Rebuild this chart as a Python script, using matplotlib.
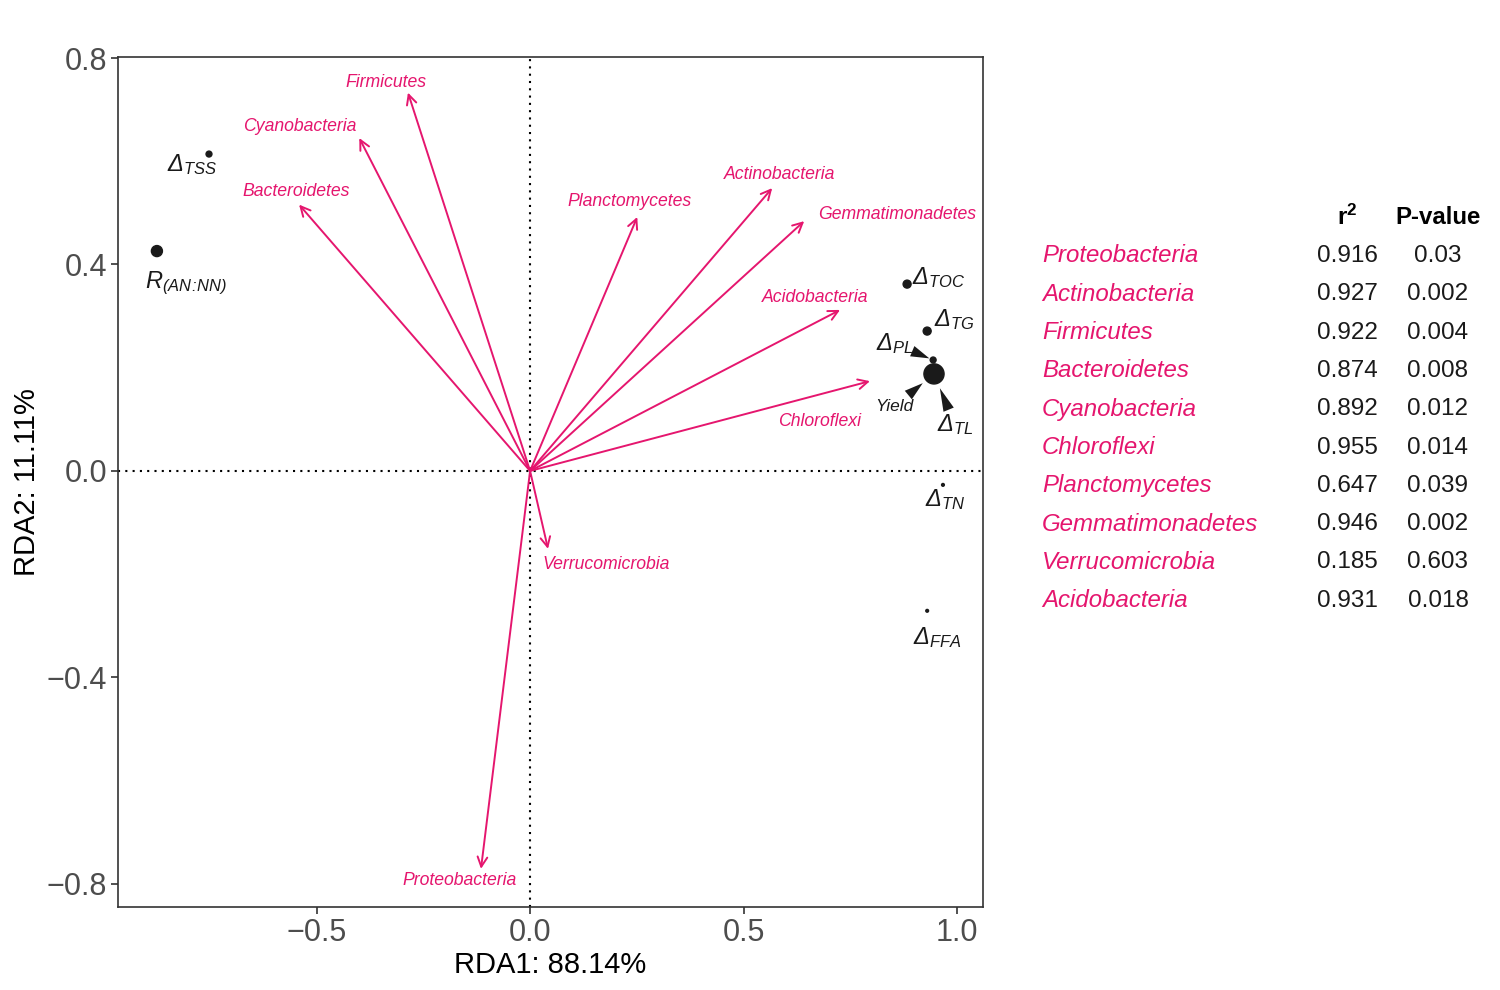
import numpy as np
import matplotlib
matplotlib.use("Agg")
import matplotlib.pyplot as plt

plt.rcParams['font.family'] = ['Liberation Sans', 'DejaVu Sans']
plt.rcParams['mathtext.fontset'] = 'custom'
plt.rcParams['mathtext.rm'] = 'Liberation Sans:italic'
plt.rcParams['mathtext.it'] = 'Liberation Sans:italic'
plt.rcParams['mathtext.bf'] = 'Liberation Sans:bold'

PINK = '#E5166E'

# species arrows (RDA1, RDA2)
taxa = ['Firmicutes', 'Cyanobacteria', 'Bacteroidetes', 'Planctomycetes', 'Actinobacteria',
        'Gemmatimonadetes', 'Acidobacteria', 'Chloroflexi', 'Verrucomicrobia', 'Proteobacteria']
arrow_x = [-0.286, -0.400, -0.541, 0.251, 0.567, 0.642, 0.726, 0.796, 0.042, -0.115]
arrow_y = [0.733, 0.645, 0.516, 0.492, 0.548, 0.484, 0.312, 0.174, -0.151, -0.771]
label_x = [-0.337, -0.539, -0.548, 0.232, 0.585, 0.859, 0.667, 0.677, 0.178, -0.164]
label_y = [0.752, 0.667, 0.541, 0.523, 0.574, 0.496, 0.337, 0.095, -0.182, -0.793]

# environmental points
env_names = [r'Δ$_{TSS}$', r'R$_{(AN\!:\!NN)}$', r'Δ$_{TOC}$',
             r'Δ$_{TG}$', r'Δ$_{PL}$', 'Yield',
             r'Δ$_{TL}$', r'Δ$_{TN}$', r'Δ$_{FFA}$']
env_x = [-0.752, -0.874, 0.883, 0.930, 0.944, 0.946, 0.946, 0.967, 0.930]
env_y = [0.614, 0.426, 0.362, 0.271, 0.215, 0.188, 0.188, -0.027, -0.271]
env_size = [18, 63, 33, 33, 18, 210, 0, 4, 4]
env_lab_x = [-0.792, -0.806, 0.957, 0.993, 0.855, 0.852, 0.995, 0.972, 0.953]
env_lab_y = [0.593, 0.364, 0.374, 0.293, 0.246, 0.124, 0.089, -0.056, -0.322]
env_lab_size = [17, 17, 17, 17, 17, 12.5, 17, 17, 17]
# repel segments: fraction along label->point where wedge starts / ends
seg_from = [None, None, None, None, 0.45, 0.36, 0.30, None, None]
seg_to = [None, None, None, None, 0.90, 0.72, 0.72, None, None]

# table
tab_taxa = ['Proteobacteria', 'Actinobacteria', 'Firmicutes', 'Bacteroidetes', 'Cyanobacteria',
            'Chloroflexi', 'Planctomycetes', 'Gemmatimonadetes', 'Verrucomicrobia', 'Acidobacteria']
r2 = ['0.916', '0.927', '0.922', '0.874', '0.892', '0.955', '0.647', '0.946', '0.185', '0.931']
pval = ['0.03', '0.002', '0.004', '0.008', '0.012', '0.014', '0.039', '0.002', '0.603', '0.018']

fig = plt.figure(figsize=(15, 9.9), dpi=100)
ax = fig.add_axes([0.0787, 0.0838, 0.5767, 0.8586])

ax.axhline(0, color='black', linestyle=(0, (1, 2.5)), lw=1.5, zorder=1)
ax.axvline(0, color='black', linestyle=(0, (1, 2.5)), lw=1.5, zorder=1)

for name, x, y, lx, ly in zip(taxa, arrow_x, arrow_y, label_x, label_y):
    ax.annotate('', xy=(x, y), xytext=(0, 0),
                arrowprops=dict(arrowstyle='->,head_length=0.7,head_width=0.35',
                                color=PINK, lw=1.4, shrinkA=0, shrinkB=0))
    ax.text(lx, ly, name, color=PINK, style='italic', fontsize=12.7, ha='center', va='center')

ax.scatter(env_x, env_y, s=env_size, color='#1a1a1a', zorder=3)
for i, (name, lx, ly) in enumerate(zip(env_names, env_lab_x, env_lab_y)):
    ax.text(lx, ly, name, fontsize=env_lab_size[i], style='italic', ha='center', va='center',
            color='#1a1a1a')
    if seg_from[i] is not None:
        # wedge from label (wide) towards the point (narrow)
        sx = lx + (env_x[i] - lx) * seg_from[i]
        sy = ly + (env_y[i] - ly) * seg_from[i]
        ex = lx + (env_x[i] - lx) * seg_to[i]
        ey = ly + (env_y[i] - ly) * seg_to[i]
        ax.annotate('', xy=(ex, ey), xytext=(sx, sy),
                    arrowprops=dict(arrowstyle='wedge,tail_width=0.8', color='#1a1a1a',
                                    lw=0, shrinkA=0, shrinkB=0))

ax.set_xlim(-0.965, 1.061)
ax.set_ylim(-0.845, 0.802)
ax.set_xticks([-0.5, 0.0, 0.5, 1.0])
ax.set_xticklabels(['\u22120.5', '0.0', '0.5', '1.0'])
ax.set_yticks([-0.8, -0.4, 0.0, 0.4, 0.8])
ax.set_yticklabels(['\u22120.8', '\u22120.4', '0.0', '0.4', '0.8'])
ax.tick_params(labelsize=22, labelcolor='#4d4d4d', color='#333333', length=5, width=1.2, pad=3)
for s in ax.spines.values():
    s.set_color('#333333')
    s.set_linewidth(1.2)
ax.set_xlabel('RDA1: 88.14%', fontsize=21, labelpad=2)
ax.set_ylabel('RDA2: 11.11%', fontsize=21, labelpad=4)

# table on the right
y0 = 1 - 256 / 990
dy = 38.3 / 990
fig.text(1347 / 1500, 1 - 217 / 990, r'$\mathbf{r^2}$', fontsize=17.5, ha='center', va='center')
fig.text(1438 / 1500, 1 - 218 / 990, 'P-value', fontsize=17.3, weight='bold', ha='center', va='center')
for i, (t, r, p) in enumerate(zip(tab_taxa, r2, pval)):
    yy = y0 - i * dy
    fig.text(1042 / 1500, yy, t, color=PINK, style='italic', fontsize=17.3, ha='left', va='center')
    fig.text(1347 / 1500, yy, r, fontsize=17.5, ha='center', va='center', color='#1a1a1a')
    fig.text(1438 / 1500, yy, p, fontsize=17.5, ha='center', va='center', color='#1a1a1a')

fig.savefig('out.png', dpi=100)
